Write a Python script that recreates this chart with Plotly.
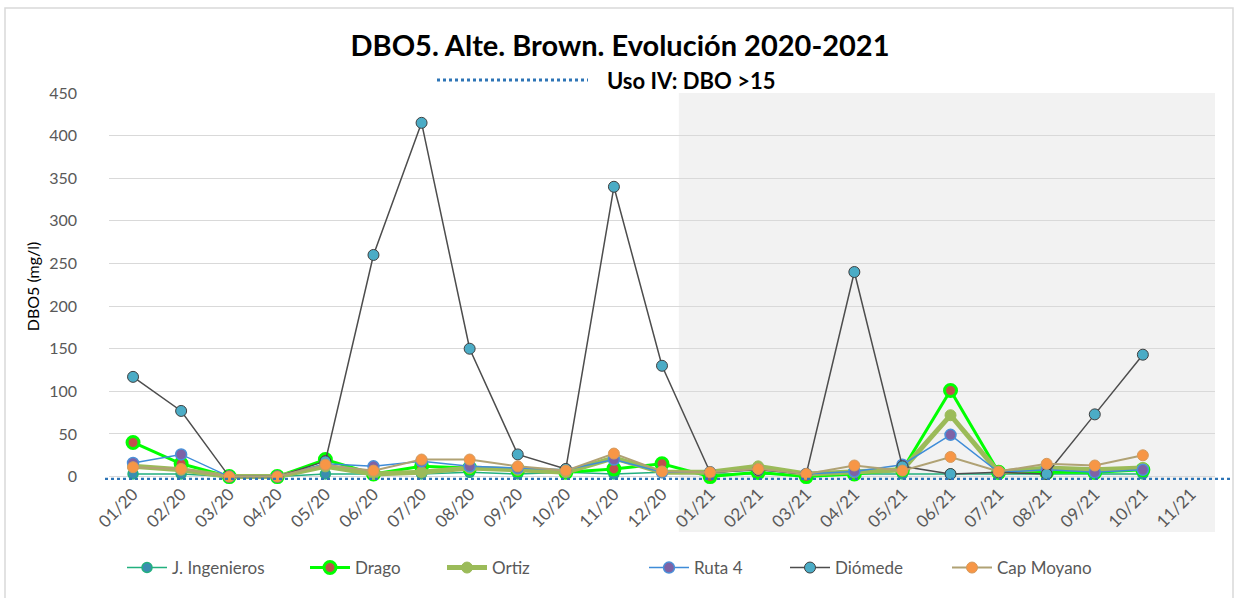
import plotly.graph_objects as go

categories = ["01/20", "02/20", "03/20", "04/20", "05/20", "06/20", "07/20", "08/20",
              "09/20", "10/20", "11/20", "12/20", "01/21", "02/21", "03/21", "04/21",
              "05/21", "06/21", "07/21", "08/21", "09/21", "10/21", "11/21"]
months_with_data = categories[:22]

ingenieros = [3, 3, 0, 0, 3, 3, 3, 5, 3, 5, 3, 5, 3, 3, 2, 3, 3, 3, 3, 3, 3, 3]
drago = [40, 15, 0, 0, 20, 3, 12, 10, 8, 5, 9, 15, 0, 5, 0, 3, 8, 101, 5, 5, 5, 8]
ortiz = [12, 8, 0, 0, 12, 3, 5, 10, 8, 5, 22, 5, 5, 12, 3, 5, 8, 72, 5, 10, 8, 10]
ruta4 = [16, 26, 0, 0, 15, 12, 18, 12, 10, 8, 20, 5, 5, 8, 3, 6, 14, 49, 5, 8, 5, 8]
diomede = [117, 77, 0, 0, 18, 260, 415, 150, 26, 9, 340, 130, 5, 8, 3, 240, 12, 3, 5, 3, 73, 143]
cap_moyano = [11, 9, 0, 0, 14, 7, 20, 20, 12, 7, 27, 6, 5, 9, 3, 13, 7, 23, 6, 15, 13, 25]

threshold_label = "Uso IV: DBO >15"
threshold_y = -3

FONT = "Lato"
GRAY = "#595959"

# plot area in pixels
L, R, T, B = 109, 20, 93, 118
W, H = 1235, 598
PW = W - L - R
PH = H - T - B

def px_x(px):
    return (px - L) / PW

def px_y(py):
    return (H - B - py) / PH

series = [
    dict(name="J. Ingenieros", y=ingenieros, line=dict(color="#22B07E", width=1.5),
         marker=dict(color="#3B8DB0", size=10, line=dict(color="#22B07E", width=1.5)), lx=125),
    dict(name="Drago", y=drago, line=dict(color="#00FF00", width=3),
         marker=dict(color="#C0504D", size=12, line=dict(color="#00FF00", width=3)), lx=308),
    dict(name="Ortiz", y=ortiz, line=dict(color="#9BBB59", width=5),
         marker=dict(color="#9BBB59", size=11, line=dict(color="#9BBB59", width=1)), lx=445),
    dict(name="Ruta 4", y=ruta4, line=dict(color="#3E8CD8", width=1.5),
         marker=dict(color="#7E62A6", size=11, line=dict(color="#4A90D9", width=1.5)), lx=647),
    dict(name="Diómede", y=diomede, line=dict(color="#4D4D4D", width=1.5),
         marker=dict(color="#4BACC6", size=11, line=dict(color="#404040", width=1)), lx=788),
    dict(name="Cap Moyano", y=cap_moyano, line=dict(color="#B0A274", width=2),
         marker=dict(color="#F79646", size=11, line=dict(color="#D59A5C", width=1)), lx=950),
]

fig = go.Figure()
layout_legends = {}
for i, s in enumerate(series):
    lg = "legend" if i == 0 else f"legend{i+1}"
    fig.add_trace(go.Scatter(
        x=months_with_data, y=s["y"], name=s["name"], mode="lines+markers",
        line=s["line"], marker=s["marker"], legend=lg, cliponaxis=False,
        showlegend=True,
    ))
    layout_legends[lg] = dict(
        x=px_x(s["lx"] - 3), y=px_y(568), xanchor="left", yanchor="middle",
        orientation="h", bgcolor="rgba(0,0,0,0)", itemwidth=40,
        font=dict(family=FONT, size=17, color=GRAY),
    )

shapes = [
    # shaded 2021 region
    dict(type="rect", xref="x", yref="paper", x0=11.35, x1=22.5, y0=px_y(532), y1=1,
         fillcolor="#F2F2F2", line=dict(width=0), layer="below"),
    # threshold dotted line
    dict(type="line", xref="paper", yref="y", x0=px_x(105), x1=px_x(1233),
         y0=threshold_y, y1=threshold_y, line=dict(color="#2E75B6", width=3, dash="dot")),
    # legend sample for threshold
    dict(type="line", xref="paper", yref="paper", x0=px_x(437), x1=px_x(588),
         y0=px_y(80), y1=px_y(80), line=dict(color="#2E75B6", width=3, dash="dot")),
    # chart border
    dict(type="rect", xref="paper", yref="paper", x0=px_x(5), x1=px_x(1233),
         y0=px_y(600), y1=px_y(8), line=dict(color="#D9D9D9", width=1.5),
         fillcolor="rgba(0,0,0,0)", layer="below"),
]

annotations = [
    dict(text=threshold_label, xref="paper", yref="paper", x=px_x(605), y=px_y(80),
         xanchor="left", yanchor="middle", showarrow=False,
         font=dict(family=FONT, size=22, color="#000000", weight="bold")),
]

fig.update_layout(
    width=W, height=H,
    showlegend=True,
    margin=dict(l=L, r=R, t=T, b=B, pad=0),
    paper_bgcolor="white", plot_bgcolor="white",
    title=dict(text="DBO5. Alte. Brown. Evolución 2020-2021", x=620 / W, xanchor="center",
               y=1 - 46 / H, yanchor="middle", yref="container",
               font=dict(family=FONT, size=29, color="#000000", weight="bold")),
    xaxis=dict(type="category", categoryorder="array", categoryarray=categories,
               tickvals=categories, range=[-0.5, 22.5], tickangle=-45, showgrid=False,
               showline=False, ticks="", tickfont=dict(family=FONT, size=17, color=GRAY)),
    yaxis=dict(range=[-4, 450], tickvals=list(range(0, 451, 50)), showgrid=True,
               gridcolor="#D9D9D9", gridwidth=1, zeroline=False, showline=False, ticks="",
               ticklabelstandoff=31,
               tickfont=dict(family=FONT, size=16, color=GRAY),
               title=dict(text="DBO5 (mg/l)", standoff=5,
                          font=dict(family=FONT, size=16, color="#000000"))),
    shapes=shapes,
    annotations=annotations,
    **layout_legends,
)

fig.write_html("out.html")
